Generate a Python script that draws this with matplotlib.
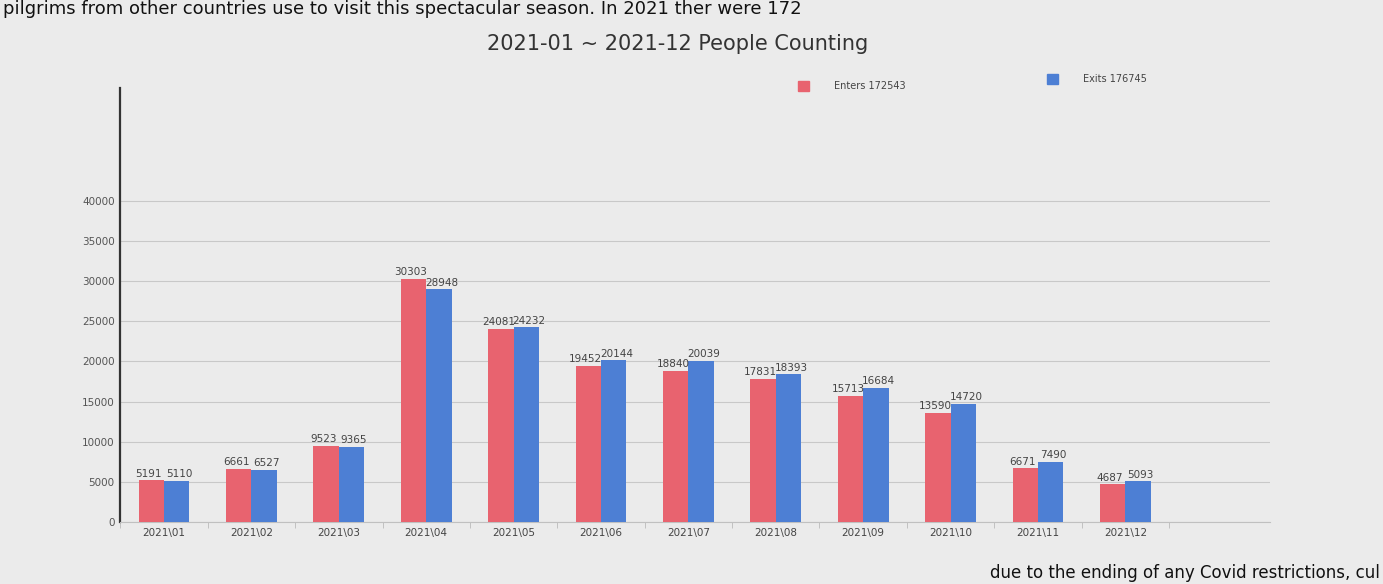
import numpy as np
import matplotlib.pyplot as plt

# monthly people counting
months = ['2021\\01', '2021\\02', '2021\\03', '2021\\04', '2021\\05', '2021\\06',
          '2021\\07', '2021\\08', '2021\\09', '2021\\10', '2021\\11', '2021\\12']
enters = [5191, 6661, 9523, 30303, 24081, 19452, 18840, 17831, 15713, 13590, 6671, 4687]
exits = [5110, 6527, 9365, 28948, 24232, 20144, 20039, 18393, 16684, 14720, 7490, 5093]
y_ticks = [0, 5000, 10000, 15000, 20000, 25000, 30000, 35000, 40000]

red = '#e8636f'
blue = '#4d7fd4'
paper = '#ebebeb'

fig = plt.figure(figsize=(13.83, 5.84), dpi=100, facecolor=paper)
ax = fig.add_axes([0.087, 0.106, 0.831, 0.743])
ax.set_facecolor(paper)

x = np.arange(len(months))
w = 0.29
ax.bar(x - w / 2, enters, width=w, color=red, zorder=3)
ax.bar(x + w / 2, exits, width=w, color=blue, zorder=3)

# value labels sit right on top of each bar (they touch in the original too)
for i in range(len(months)):
    ax.text(x[i] - w / 2 - 0.03, enters[i] + 200, str(enters[i]), ha='center', va='bottom',
            fontsize=7.5, color='#444444', zorder=4)
    ax.text(x[i] + w / 2 + 0.03, exits[i] + 200, str(exits[i]), ha='center', va='bottom',
            fontsize=7.5, color='#444444', zorder=4)

ax.set_xlim(-0.5, 12.65)
ax.set_ylim(0, 54000)
ax.set_yticks(y_ticks)
ax.set_yticklabels([str(v) for v in y_ticks], fontsize=7.5, color='#555555')
ax.set_xticks(x)
ax.set_xticklabels(months, fontsize=7.5, color='#444444')
ax.set_xticks(np.arange(-0.5, len(months), 1.0), minor=True)
ax.tick_params(axis='x', which='major', length=0, pad=4)
ax.tick_params(axis='x', which='minor', length=4, color='#bbbbbb')
ax.tick_params(axis='y', length=0, pad=4)

ax.grid(axis='y', color='#c8c8c8', linewidth=0.8, zorder=0)
for s in ['top', 'right']:
    ax.spines[s].set_visible(False)
ax.spines['left'].set_color('#333333')
ax.spines['left'].set_linewidth(1.6)
ax.spines['bottom'].set_color('#c0c0c0')

fig.text(0.49, 0.925, '2021-01 ~ 2021-12 People Counting', ha='center', va='center',
         fontsize=15, color='#333333')

# legend placed like the original, one entry on each side
fig.patches.append(plt.Rectangle((0.577, 0.845), 0.008, 0.016, color=red,
                                 transform=fig.transFigure, figure=fig))
fig.text(0.603, 0.853, 'Enters 172543', fontsize=7, color='#444444', va='center')
fig.patches.append(plt.Rectangle((0.757, 0.857), 0.008, 0.016, color=blue,
                                 transform=fig.transFigure, figure=fig))
fig.text(0.783, 0.865, 'Exits 176745', fontsize=7, color='#444444', va='center')

# scanned page text around the chart
fig.text(0.002, 0.985, 'pilgrims from other countries use to visit this spectacular season. In 2021 ther were 172',
         fontsize=13, color='#111111', va='center', ha='left')
fig.text(0.998, 0.004, 'due to the ending of any Covid restrictions, cul',
         fontsize=12, color='#111111', va='bottom', ha='right')

plt.savefig('out.png', dpi=100, facecolor=paper)
plt.close()
